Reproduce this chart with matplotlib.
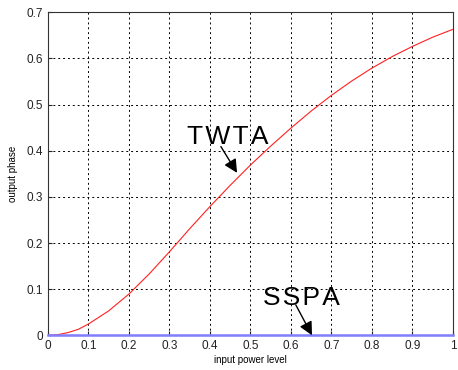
import numpy as np
import matplotlib.pyplot as plt

plt.rcParams['font.family'] = ['Liberation Sans', 'DejaVu Sans']

# input power level and measured output phase
power = [0.0, 0.025, 0.05, 0.075, 0.1, 0.15, 0.2, 0.25, 0.3, 0.35, 0.4, 0.45, 0.5,
         0.55, 0.6, 0.65, 0.7, 0.75, 0.8, 0.85, 0.9, 0.95, 1.0]
twta_phase = [0.0, 0.0015, 0.006, 0.013, 0.0245, 0.053, 0.0895, 0.133, 0.181, 0.231, 0.279,
              0.325, 0.369, 0.410, 0.449, 0.486, 0.520, 0.551, 0.579, 0.604, 0.626, 0.646, 0.663]
sspa_phase = [0.0] * len(power)

xticks = np.arange(0, 1.01, 0.1)
yticks = np.arange(0, 0.71, 0.1)

fig = plt.figure(figsize=(4.58, 3.70), dpi=100)
ax = fig.add_axes([0.1048, 0.0938, 0.884, 0.873])

ax.plot(power, twta_phase, color='#ff2020', lw=0.8, zorder=3)
ax.plot(power, sspa_phase, color='#8080ff', lw=1.8, zorder=3, clip_on=False)

ax.set_xlim(0, 1)
ax.set_ylim(0, 0.7)
ax.set_xticks(xticks)
ax.set_yticks(yticks)
ax.set_xticklabels(['0', '0.1', '0.2', '0.3', '0.4', '0.5', '0.6', '0.7', '0.8', '0.9', '1'])
ax.set_yticklabels(['0', '0.1', '0.2', '0.3', '0.4', '0.5', '0.6', '0.7'])
ax.tick_params(direction='in', labelsize=8.5, length=3, colors='#222222')
ax.grid(True, linestyle=(0, (2, 3)), color='k', lw=0.7)
for s in ax.spines.values():
    s.set_color('#333333')
    s.set_linewidth(0.8)

ax.set_xlabel('input power level', fontsize=7, labelpad=2)
ax.set_ylabel('output phase', fontsize=7, labelpad=6)

arrow = dict(arrowstyle='-|>', color='k', lw=1.0, mutation_scale=20, shrinkA=0, shrinkB=0)
ax.text(0.444, 0.43, 'T\u200aW\u200aT\u200aA', fontsize=19, ha='center', va='center')
ax.annotate('', xy=(0.467, 0.352), xytext=(0.427, 0.409), arrowprops=arrow)
ax.text(0.626, 0.081, 'S\u200aS\u200aP\u200aA', fontsize=19, ha='center', va='center')
ax.annotate('', xy=(0.652, 0.0), xytext=(0.612, 0.066), arrowprops=arrow)

fig.savefig('out.png', dpi=100)
